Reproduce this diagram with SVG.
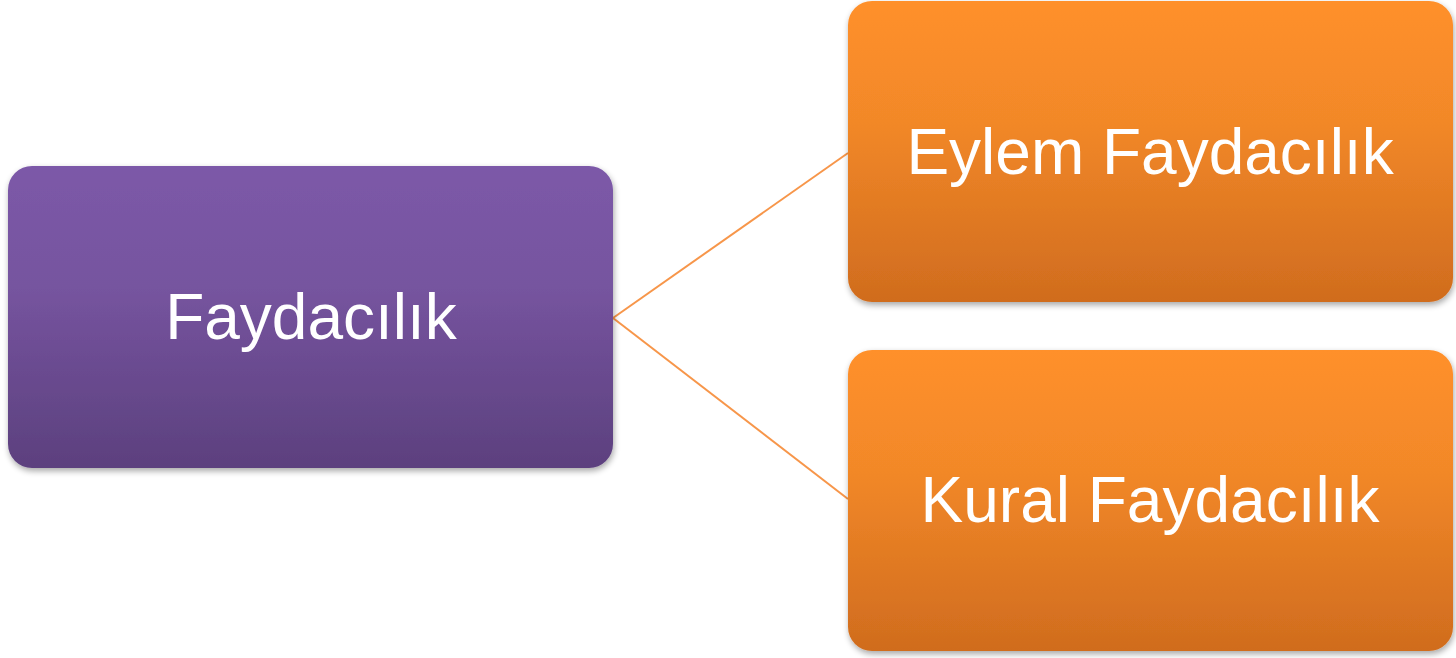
<svg xmlns="http://www.w3.org/2000/svg" width="1456" height="658" viewBox="0 0 1456 658">
<defs>
<linearGradient id="gp" x1="0" y1="0" x2="0" y2="1">
<stop offset="0" stop-color="#7C59A8"/>
<stop offset="0.4" stop-color="#76549F"/>
<stop offset="1" stop-color="#5C407E"/>
</linearGradient>
<linearGradient id="go" x1="0" y1="0" x2="0" y2="1">
<stop offset="0" stop-color="#FF902B"/>
<stop offset="0.4" stop-color="#F28828"/>
<stop offset="1" stop-color="#D06C1E"/>
</linearGradient>
<filter id="sh" x="-10%" y="-10%" width="120%" height="125%">
<feGaussianBlur in="SourceAlpha" stdDeviation="3"/>
<feOffset dx="1" dy="3" result="b"/>
<feComponentTransfer><feFuncA type="linear" slope="0.35"/></feComponentTransfer>
<feMerge><feMergeNode/><feMergeNode in="SourceGraphic"/></feMerge>
</filter>
<style>
.t{font-family:"Liberation Sans",Arial,sans-serif;font-size:64px;fill:#fff;text-anchor:middle}
.c{stroke:#F7964A;stroke-width:2;fill:none}
</style>
</defs>
<rect width="1456" height="658" fill="#fff"/>
<g id="connectors">
<line class="c" x1="613" y1="318" x2="848" y2="153"/>
<line class="c" x1="613" y1="318" x2="848" y2="499"/>
</g>
<g id="n-root">
<rect x="8" y="166" width="605" height="302" rx="24" fill="url(#gp)" filter="url(#sh)"/>
<text class="t" x="311" y="339">Faydacılık</text>
</g>
<g id="n-eylem">
<rect x="848" y="1" width="605" height="301" rx="24" fill="url(#go)" filter="url(#sh)"/>
<text class="t" x="1150" y="174">Eylem Faydacılık</text>
</g>
<g id="n-kural">
<rect x="848" y="350" width="605" height="301" rx="24" fill="url(#go)" filter="url(#sh)"/>
<text class="t" x="1150" y="522">Kural Faydacılık</text>
</g>
</svg>
